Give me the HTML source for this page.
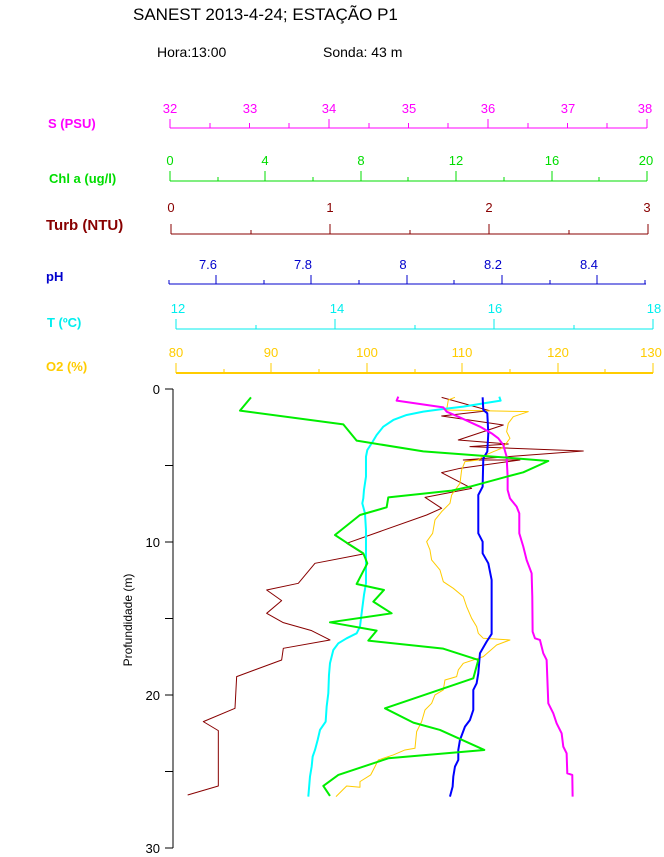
<!DOCTYPE html>
<html><head><meta charset="utf-8"><style>body{margin:0;background:#fff}svg{display:block;font-family:"Liberation Sans",Arial,sans-serif}</style></head><body>
<svg width="664" height="857" xmlns="http://www.w3.org/2000/svg">
<text x="133" y="20" font-size="17">SANEST 2013-4-24; ESTAÇÃO P1</text>
<text x="157" y="57" font-size="14">Hora:13:00</text>
<text x="323" y="57" font-size="14">Sonda: 43 m</text>
<g font-size="13" font-weight="bold">
<text x="48" y="128" fill="#f0f">S (PSU)</text>
<text x="49" y="183" fill="#0d0">Chl a (ug/l)</text>
<text x="46" y="230" fill="#800" font-size="15">Turb (NTU)</text>
<text x="46" y="281" fill="#00c">pH</text>
<text x="47" y="327" fill="#0ee">T (ºC)</text>
<text x="46" y="371" fill="#fc0">O2 (%)</text>
</g>
<g font-size="13" text-anchor="middle" fill="none">
<g stroke="#f0f"><path d="M170 128H647"/><path d="M170 119V128M249.5 123V128M329 119V128M408.5 123V128M488 119V128M567.5 123V128M647 119V128M210 123V128M289 123V128M369 123V128M448 123V128M528 123V128M607 123V128" stroke-width="1"/></g>
<g fill="#f0f" stroke="none"><text x="170" y="113">32</text><text x="250" y="113">33</text><text x="329" y="113">34</text><text x="409" y="113">35</text><text x="488" y="113">36</text><text x="568" y="113">37</text><text x="645" y="113">38</text></g>
<g stroke="#0d0"><path d="M170 181H647M170 171V181M265 171V181M361 171V181M456 171V181M552 171V181M647 171V181M218 177V181M313 177V181M408 177V181M504 177V181M599 177V181"/></g>
<g fill="#0d0" stroke="none"><text x="170" y="165">0</text><text x="265" y="165">4</text><text x="361" y="165">8</text><text x="456" y="165">12</text><text x="552" y="165">16</text><text x="646" y="165">20</text></g>
<g stroke="#800"><path d="M171 234H648M171 224V234M330 224V234M489 224V234M648 224V234M251 230V234M410 230V234M569 230V234"/></g>
<g fill="#800" stroke="none"><text x="171" y="212">0</text><text x="330" y="212">1</text><text x="489" y="212">2</text><text x="647" y="212">3</text></g>
<g stroke="#00c"><path d="M169 284H646M169 280V284M216 275V284M264 280V284M311 275V284M359 280V284M407 275V284M454 280V284M502 275V284M550 280V284M597 275V284M645 280V284"/></g>
<g fill="#00c" stroke="none"><text x="208" y="269">7.6</text><text x="303" y="269">7.8</text><text x="403" y="269">8</text><text x="493" y="269">8.2</text><text x="589" y="269">8.4</text></g>
<g stroke="#0ee"><path d="M176 329H653M176 319V329M335 319V329M494 319V329M653 319V329M256 325V329M415 325V329M574 325V329"/></g>
<g fill="#0ee" stroke="none"><text x="178" y="313">12</text><text x="337" y="313">14</text><text x="495" y="313">16</text><text x="654" y="313">18</text></g>
<g stroke="#fc0"><path d="M176 373H653" stroke-width="2"/><path d="M176 363V373M271 363V373M367 363V373M462 363V373M558 363V373M653 363V373M224 369V373M319 369V373M415 369V373M510 369V373M605 369V373"/></g>
<g fill="#fc0" stroke="none"><text x="176" y="357">80</text><text x="271" y="357">90</text><text x="367" y="357">100</text><text x="462" y="357">110</text><text x="558" y="357">120</text><text x="651" y="357">130</text></g>
</g>
<g stroke="#000" fill="none"><path d="M173 389V848M165 389H173M165 465.5H173M165 542H173M165 618.5H173M165 695H173M165 771.5H173M165 848H173"/></g>
<g font-size="13" text-anchor="end"><text x="160" y="394">0</text><text x="160" y="547">10</text><text x="160" y="700">20</text><text x="160" y="853">30</text></g>
<text transform="translate(132,620) rotate(-90)" font-size="12" text-anchor="middle">Profundidade (m)</text>
<g transform="translate(130,380) scale(0.3333)" fill="none" stroke-linejoin="round">
<polyline vector-effect="non-scaling-stroke" stroke="#800" stroke-width="1" points="935,52 1078,92 935,108 1120,135 985,180 1135,192 1020,200 1360,213 1000,240 1170,240 990,265 935,278 1025,325 885,352 935,385 890,405 650,490 700,522 555,550 505,610 410,630 455,662 410,700 460,728 545,752 600,780 460,805 455,840 320,890 315,985 220,1025 265,1052 265,1218 173,1245"/>
<polyline vector-effect="non-scaling-stroke" stroke="#fc0" stroke-width="1" points="975,52 955,60 950,90 1195,95 1150,110 1135,130 1130,155 1140,175 1125,195 1115,205 1090,215 1060,228 1045,240 1005,245 995,270 990,310 965,345 960,370 935,395 915,420 908,460 890,485 900,510 905,540 930,570 940,605 970,625 1000,650 1010,680 1025,715 1040,740 1045,760 1060,775 1140,780 1100,795 1060,830 1000,850 985,870 980,890 945,900 940,930 915,945 905,970 885,990 875,1025 860,1055 855,1105 825,1110 790,1125 745,1140 735,1160 722,1185 690,1205 690,1222 650,1218 618,1250"/>
<polyline vector-effect="non-scaling-stroke" stroke="#0ff" stroke-width="2" points="1108,50 1112,62 1060,70 1000,80 930,88 880,95 830,105 790,120 760,140 740,165 725,190 712,210 708,230 708,290 702,330 700,355 697,370 705,400 708,450 708,550 708,610 702,645 695,700 690,740 680,760 650,775 625,790 610,810 600,850 597,885 595,940 590,980 587,1025 570,1050 563,1080 555,1110 548,1130 545,1160 540,1190 535,1250"/>
<polyline vector-effect="non-scaling-stroke" stroke="#00f" stroke-width="2" points="1058,52 1060,90 1072,100 1075,160 1072,215 1060,235 1058,320 1045,345 1045,460 1058,485 1058,520 1075,550 1085,600 1085,762 1070,785 1050,820 1045,880 1040,910 1030,930 1030,990 1020,1020 1005,1040 990,1080 985,1110 985,1140 975,1160 970,1190 968,1220 960,1250"/>
<polyline vector-effect="non-scaling-stroke" stroke="#f0f" stroke-width="2" points="805,50 800,62 870,72 940,82 950,95 985,110 1050,140 1085,160 1105,175 1120,195 1130,230 1133,290 1133,330 1140,355 1160,380 1168,400 1168,460 1180,500 1190,540 1205,580 1207,650 1208,755 1215,775 1230,780 1240,820 1250,840 1255,970 1270,1000 1280,1030 1295,1060 1300,1100 1310,1120 1312,1180 1327,1185 1328,1250"/>
<polyline vector-effect="non-scaling-stroke" stroke="#0e0" stroke-width="2" points="363,52 330,92 640,133 680,182 880,214 1130,233 1255,243 1180,277 1130,290 1020,320 965,332 775,352 770,382 690,405 615,465 650,488 700,520 712,550 680,612 762,630 730,665 785,700 600,727 740,752 715,782 940,806 1045,840 1030,895 765,985 850,1028 930,1050 1063,1110 775,1135 625,1185 580,1218 600,1248"/>
</g>
</svg>
</body></html>
